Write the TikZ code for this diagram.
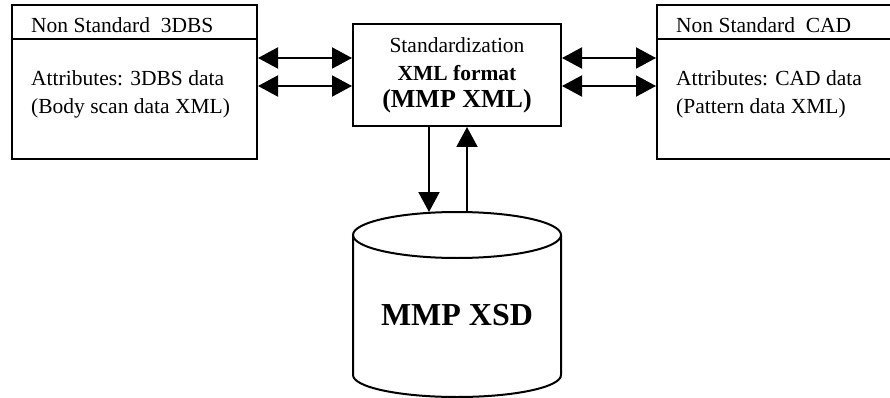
\documentclass[tikz,border=0pt]{standalone}
\usepackage{fontspec}
\setmainfont{Liberation Serif}
\usetikzlibrary{arrows.meta, positioning, calc}
\tikzset{every node/.style={font=\fontsize{21.5}{28}\selectfont}}

\begin{document}
\begin{tikzpicture}[x=1pt, y=-1pt,
    srcbox/.style={draw, line width=2pt, minimum width=245pt, minimum height=154pt, inner sep=0pt},
    stdbox/.style={draw, line width=2pt, minimum width=208pt, minimum height=102pt, inner sep=0pt, align=center},
    boxtext/.style={anchor=base west, inner sep=0pt, align=left},
    tip/.tip={Triangle[length=20pt, width=21pt]},
    link/.style={line width=2pt, tip-tip},
    linkend/.style={line width=2pt, -tip}]
  \clip (0,0) rectangle (890,398);

  % source boxes and standard box
  \node[srcbox] (lbox) at (134.5,82) {};
  \node[srcbox] (rbox) at (779.5,82) {};
  \node[stdbox] (std) at (457,75) {Standardization\\\textbf{XML format}\\[-1pt]{\fontsize{26}{28}\selectfont\bfseries (MMP XML)}};

  \draw[line width=2pt] ([yshift=-35pt]lbox.north west) -- ([yshift=-35pt]lbox.north east);
  \draw[line width=2pt] ([yshift=-35pt]rbox.north west) -- ([yshift=-35pt]rbox.north east);

  % base of a two-line text is its last line
  \node[boxtext] (ltitle) at ([xshift=20pt, yshift=-29pt]lbox.north west) {Non Standard\ \ 3DBS};
  \node[boxtext] (lbody) at ([xshift=20pt, yshift=-110pt]lbox.north west) {Attributes: 3DBS data\\(Body scan data XML)};
  \node[boxtext] (rtitle) at ([xshift=20pt, yshift=-29pt]rbox.north west) {Non Standard\ \ CAD};
  \node[boxtext] (rbody) at ([xshift=20pt, yshift=-110pt]rbox.north west) {Attributes: CAD data\\(Pattern data XML)};

  % database
  \coordinate (dbtop) at (457,212);
  \draw[line width=2pt] (457,235) ellipse [x radius=104, y radius=23];
  \draw[line width=2pt] (353,235) -- (353,375) arc[start angle=180, end angle=0, x radius=104, y radius=22] -- (561,235);
  \node[font=\fontsize{32}{34}\selectfont\bfseries] (db) at (457,315) {MMP XSD};

  % connectors
  \coordinate (r1) at (0,58);
  \coordinate (r2) at (0,86);
  \draw[link] (lbox.east |- r1) -- (std.west |- r1);
  \draw[link] (lbox.east |- r2) -- (std.west |- r2);
  \draw[link] (std.east |- r1) -- (rbox.west |- r1);
  \draw[link] (std.east |- r2) -- (rbox.west |- r2);
  \draw[linkend] ([xshift=-28pt]std.south) -- ([xshift=-28pt]dbtop);
  \draw[linkend] ([xshift=10pt]dbtop) -- ([xshift=10pt]std.south);
\end{tikzpicture}
\end{document}
